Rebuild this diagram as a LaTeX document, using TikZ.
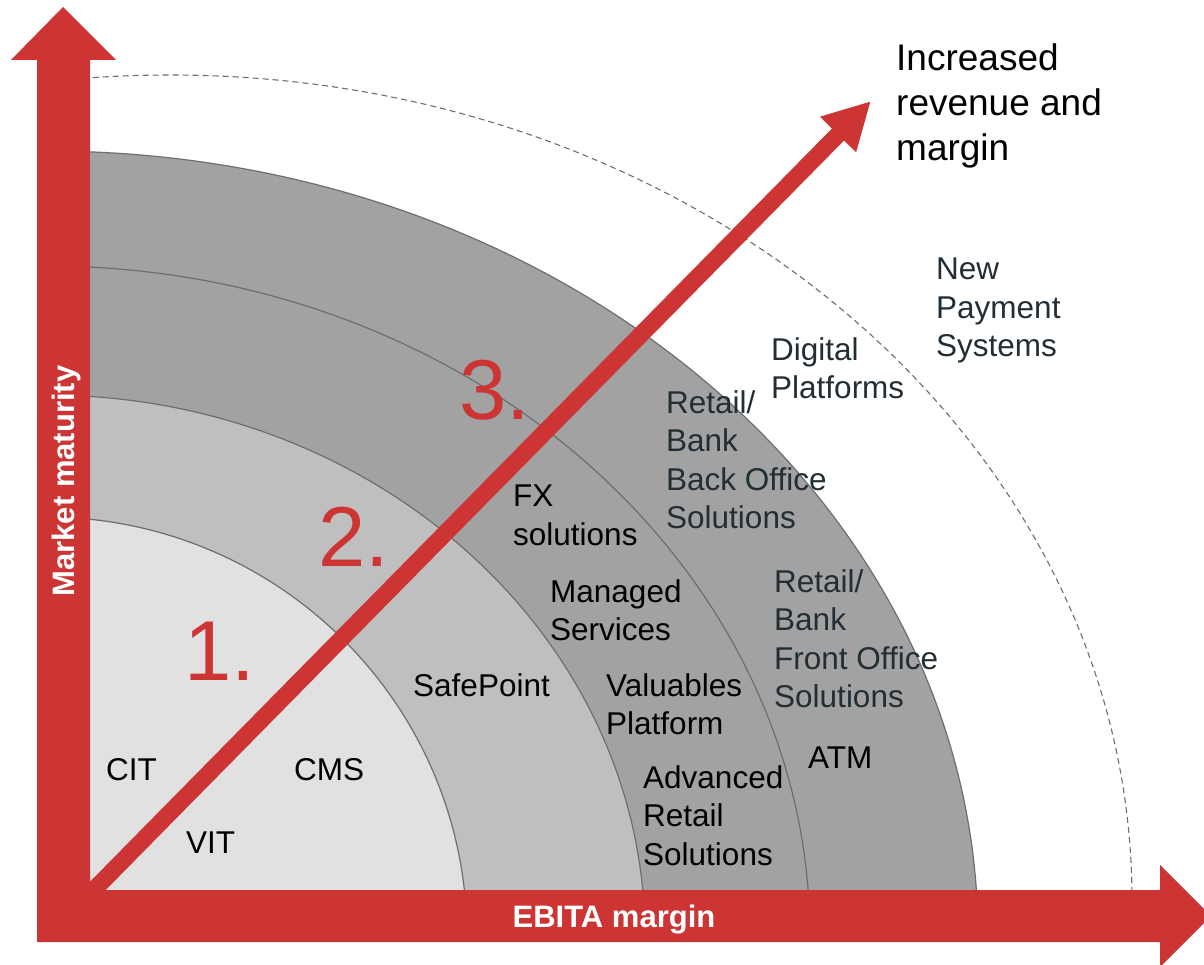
\documentclass[tikz,border=0pt]{standalone}
\usepackage{fontspec}
\setmainfont{Liberation Sans}
\usetikzlibrary{arrows.meta}
\definecolor{axisred}{RGB}{205,52,52}
\definecolor{ringline}{RGB}{110,110,110}
\definecolor{ringA}{RGB}{224,225,224}
\definecolor{ringB}{RGB}{191,191,191}
\definecolor{ringC}{RGB}{162,162,162}
\definecolor{slate}{RGB}{35,45,52}

\begin{document}
\begin{tikzpicture}[x=1pt,y=-1pt,every text node part/.style={align=left}]
  \tikzstyle{ring}=[draw=ringline,line width=1.2pt]
  \tikzstyle{item}=[anchor=north west,inner sep=0pt,text=black,
    font=\fontsize{31.5}{38.5}\selectfont]
  \tikzstyle{itemdark}=[item,text=slate]
  \tikzstyle{num}=[anchor=north west,inner sep=0pt,text=axisred,
    font=\fontsize{85}{90}\selectfont]
  \tikzstyle{axistext}=[inner sep=0pt,text=white,
    font=\bfseries\fontsize{31}{36}\selectfont]

  \clip (0,0) rectangle (1204,965);

  % rings
  \begin{scope}
    \clip (90,0) rectangle (1204,890);
    \filldraw[ring,fill=ringC] (46,937) ellipse [x radius=932,y radius=786];
    \filldraw[ring,fill=ringC] (46,937) ellipse [x radius=764,y radius=671];
    \filldraw[ring,fill=ringB] (46,937) ellipse [x radius=599,y radius=542];
    \filldraw[ring,fill=ringA] (46,937) ellipse [x radius=421,y radius=420];
    \draw[ringline,line width=1.1pt,dash pattern=on 6pt off 4pt]
      (170,900) ellipse [x radius=962,y radius=825];
  \end{scope}

  % growth arrow
  \coordinate (start) at (78,906);
  \coordinate (goal) at (871,101);
  \draw[axisred,line width=17pt,-{Triangle[length=47pt,width=47pt]}]
    (start) -- (goal);

  % axes
  \fill[axisred] (37,942) -- (37,60) -- (11,60) -- (63,7) -- (116,60)
    -- (90,60) -- (90,890) -- (1160,890) -- (1160,865) -- (1211,916)
    -- (1160,967) -- (1160,942) -- cycle;
  \node[axistext,rotate=90] (maturity) at (66,481) {Market maturity};
  \node[axistext,anchor=base] (ebita) at (614,927) {EBITA margin};

  % steps
  \node[num] (one) at (184,622) {1.};
  \node[num] (two) at (318,507) {2.};
  \node[num] (three) at (459,360) {3.};

  % offerings
  \node[item] (cit) at (106,758) {CIT};
  \node[item] (vit) at (186,832) {VIT};
  \node[item] (cms) at (294,758) {CMS};
  \node[item] (safepoint) at (413,673) {SafePoint};
  \node[item] (fx) at (513,485) {FX\\solutions};
  \node[item] (managed) at (550,579) {Managed\\Services};
  \node[item] (valuables) at (606,673) {Valuables\\Platform};
  \node[item] (advanced) at (643,765) {Advanced\\Retail\\Solutions};
  \node[item] (atm) at (808,747) {ATM};
  \node[itemdark] (frontoffice) at (774,569) {Retail/\\Bank\\Front Office\\Solutions};
  \node[itemdark] (backoffice) at (666,390) {Retail/\\Bank\\Back Office\\Solutions};
  \node[itemdark] (digital) at (771,337) {Digital\\Platforms};
  \node[itemdark] (newpay) at (936,258) {New\\Payment\\Systems};
  \node[item,font=\fontsize{37}{45}\selectfont] (revenue) at (896,43)
    {Increased\\revenue and\\margin};
\end{tikzpicture}
\end{document}
